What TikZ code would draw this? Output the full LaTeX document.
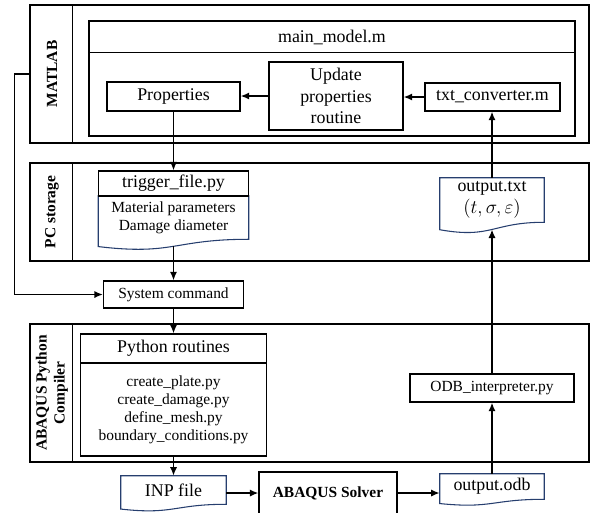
\documentclass[tikz,border=0pt]{standalone}
\usepackage{fontspec}
\setmainfont{Liberation Serif}
\usetikzlibrary{calc,arrows.meta}

\definecolor{docblue}{RGB}{38,62,110}
\newcommand{\bigfont}{\fontsize{13.4}{16}\selectfont}
\newcommand{\smallfont}{\fontsize{11.6}{13.5}\selectfont}

% wavy document outline round a node, with a coordinate (name-w) on the wave
\newcommand{\docframe}[1]{%
  \draw[docline] let \p1=(#1.north west), \p2=(#1.south east) in
    (\x1,\y1) -- (\x2,\y1) -- (\x2,\y2)
    .. controls ({(\x1+\x2)/2},\y2) and ({(\x1+\x2)/2},{\y2-0.375*(\y1-\y2)})
    .. (\x1,{\y2-0.1675*(\y1-\y2)}) -- cycle
    ({(\x1+\x2)/2},{\y2-0.161*(\y1-\y2)}) coordinate (#1-w);}

\begin{document}
\begin{tikzpicture}[x=0.75pt, y=-0.75pt,
    band/.style={draw, line width=0.8pt, minimum width=419.25pt, inner sep=0pt},
    bandlbl/.style={rotate=90, font=\smallfont\bfseries, align=center},
    box/.style={draw, line width=0.8pt, inner sep=0pt, align=center, font=\bigfont},
    sbox/.style={box, font=\smallfont},
    doc/.style={inner sep=0pt, align=center, font=\bigfont},
    docline/.style={draw=docblue, line width=0.8pt},
    flow/.style={-{Latex[length=6.5pt,width=5.5pt]}, line width=1.3pt}]

    \useasboundingbox (0,0) rectangle (591,512);

    % Bands
    \node[band, minimum height=103.5pt] (matlab) at (309.5,74) {};
    \node[band, minimum height=73.5pt] (pcband) at (309.5,212) {};
    \node[band, minimum height=103.5pt] (abqband) at (309.5,393) {};
    \foreach \b in {matlab,pcband,abqband}
        \draw[line width=0.8pt] ([xshift=32.25pt]\b.north west) -- ([xshift=32.25pt]\b.south west);
    \node[bandlbl] (lblmatlab) at (52,74) {MATLAB};
    \node[bandlbl] (lblpc) at (52,212) {PC storage};
    \node[bandlbl] (lblabq) at (52,393) {ABAQUS Python\\Compiler};

    % MATLAB
    \node[box, minimum width=364.5pt, minimum height=86.25pt] (mainmodel) at (332,78.5) {};
    \draw[line width=0.8pt] ([yshift=-24pt]mainmodel.north west) -- ([yshift=-24pt]mainmodel.north east);
    \node[font=\bigfont] (mainttl) at (332,37) {main\_model.m};
    \node[box, minimum width=99.75pt, minimum height=21.75pt] (props) at (173.5,96.5) {Properties};
    \node[box, minimum width=100.5pt, minimum height=51pt] (update) at (336,96) {Update\\properties\\routine};
    \node[box, minimum width=101.25pt, minimum height=21pt] (txtconv) at (492.5,97) {txt\_converter.m};

    % PC storage
    \node[doc, font=\smallfont, minimum width=112.5pt, minimum height=32.25pt] (trigdoc) at (173.5,217.5)
        {Material parameters\\Damage diameter};
    \docframe{trigdoc}
    \node[box, minimum width=112.5pt, minimum height=18.75pt] (trighead) at (173.5,183.5) {trigger\_file.py};
    \node[doc, minimum width=78pt, minimum height=33pt] (outtxt) at (492,200) {output.txt\\$(t,\sigma,\varepsilon)$};
    \docframe{outtxt}

    \node[sbox, minimum width=105pt, minimum height=20.25pt] (syscmd) at (173.5,294.5) {System command};

    % ABAQUS
    \node[box, minimum width=139.5pt, minimum height=21.75pt] (pyhead) at (173.5,348.5) {Python routines};
    \node[sbox, minimum width=139.5pt, minimum height=69.75pt] (pybody) at (173.5,409.5)
        {create\_plate.py\\create\_damage.py\\define\_mesh.py\\boundary\_conditions.py};
    \node[sbox, minimum width=123pt, minimum height=21pt] (odbint) at (492,388) {ODB\_interpreter.py};

    \node[doc, minimum width=78.75pt, minimum height=21pt] (inp) at (173.5,490) {INP file};
    \docframe{inp}
    \node[sbox, font=\smallfont\bfseries, minimum width=103.5pt, minimum height=31.5pt] (solver) at (328,493) {ABAQUS Solver};
    \node[doc, minimum width=78pt, minimum height=18.75pt] (odb) at (492,486.5) {output.odb};
    \docframe{odb}

    % Connectors
    \draw[flow] (txtconv.west) -- (txtconv.west -| update.east);
    \draw[flow] (update.west) -- (update.west -| props.east);
    \draw[flow] (props.south) -- (trighead.north);
    \draw[flow] (trigdoc-w) -- (syscmd.north);
    \draw[flow] (matlab.west) -- ++(-15,0) |- (syscmd.west);
    \draw[flow] (syscmd.south) -- (pyhead.north);
    \draw[flow] (pybody.south) -- (inp.north);
    \draw[flow] (inp.east |- solver.west) -- (solver.west);
    \draw[flow] (solver.east) -- (solver.east -| odb.west);
    \draw[flow] (odb.north) -- (odbint.south);
    \draw[flow] (odbint.north) -- (outtxt-w);
    \draw[flow] (outtxt.north) -- (outtxt.north |- txtconv.south);
\end{tikzpicture}
\end{document}
